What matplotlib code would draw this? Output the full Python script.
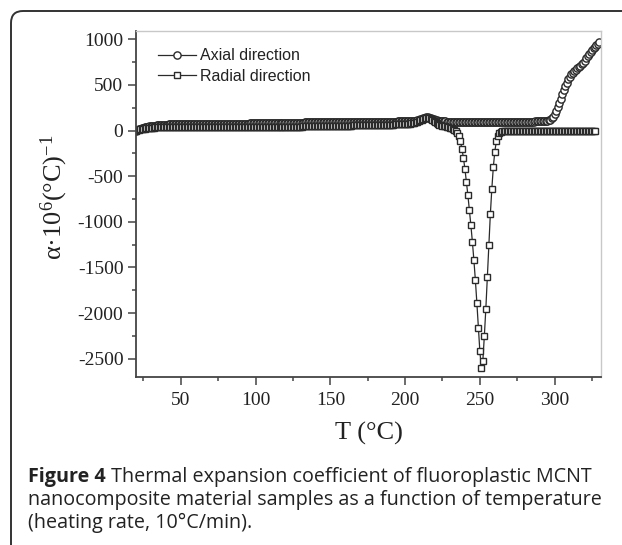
import numpy as np
import matplotlib
matplotlib.use('Agg')
import matplotlib.pyplot as plt
from matplotlib.patches import FancyBboxPatch
from matplotlib.ticker import MultipleLocator

plt.rcParams['axes.unicode_minus'] = False
plt.rcParams['mathtext.fontset'] = 'custom'
plt.rcParams['mathtext.rm'] = 'Liberation Serif'
plt.rcParams['mathtext.it'] = 'Liberation Serif:italic'

# temperature grid (deg C), one reading per degree
temp_axial = np.arange(20, 331)
temp_radial = np.arange(20, 328)

axial = [
    0, 7, 13, 19, 24, 29, 33, 37, 41, 44,
    47, 50, 52, 54, 56, 58, 60, 61, 62, 63,
    64, 65, 66, 67, 68, 68, 69, 69, 70, 70,
    71, 71, 71, 72, 72, 72, 72, 73, 73, 73,
    73, 73, 73, 73, 73, 73, 73, 73, 73, 73,
    73, 73, 73, 73, 73, 73, 73, 73, 73, 73,
    73, 73, 73, 73, 74, 74, 74, 74, 74, 75,
    75, 75, 75, 76, 76, 76, 77, 77, 77, 78,
    78, 78, 79, 79, 79, 80, 80, 80, 81, 81,
    81, 82, 82, 82, 83, 83, 83, 84, 84, 84,
    85, 85, 85, 85, 86, 86, 86, 86, 87, 87,
    87, 87, 87, 88, 88, 88, 88, 88, 89, 89,
    89, 89, 89, 89, 90, 90, 90, 90, 90, 90,
    91, 91, 91, 91, 91, 91, 92, 92, 92, 92,
    92, 92, 92, 93, 93, 93, 93, 93, 93, 94,
    94, 94, 94, 94, 94, 95, 95, 95, 95, 95,
    95, 96, 96, 96, 96, 96, 97, 97, 97, 97,
    97, 98, 98, 98, 98, 99, 99, 99, 100, 100,
    100, 101, 101, 102, 102, 103, 105, 108, 112, 117,
    122, 128, 134, 139, 143, 144, 142, 137, 130, 122,
    115, 110, 106, 103, 101, 100, 99, 99, 98, 98,
    98, 98, 98, 98, 98, 98, 98, 98, 98, 98,
    98, 98, 98, 98, 98, 98, 98, 98, 98, 98,
    98, 98, 98, 98, 98, 98, 98, 98, 98, 98,
    98, 98, 98, 98, 98, 98, 98, 98, 98, 98,
    98, 98, 98, 98, 98, 98, 98, 98, 98, 98,
    98, 98, 98, 98, 98, 98, 98, 99, 99, 99,
    100, 100, 101, 102, 104, 107, 112, 120, 132, 150,
    180, 215, 255, 300, 345, 395, 440, 485, 525, 560,
    590, 615, 635, 650, 665, 680, 695, 710, 725, 745,
    765, 790, 815, 840, 862, 882, 900, 918, 935, 950,
    965,
]

radial = [
    0, 4, 8, 12, 15, 18, 21, 24, 26, 28,
    30, 31, 32, 33, 34, 35, 36, 36, 37, 37,
    38, 38, 38, 39, 39, 39, 39, 40, 40, 40,
    40, 40, 40, 40, 40, 40, 40, 40, 40, 40,
    40, 40, 40, 40, 39, 39, 39, 39, 39, 38,
    38, 38, 38, 38, 37, 37, 37, 37, 37, 36,
    36, 36, 36, 36, 36, 36, 35, 35, 35, 35,
    35, 35, 35, 35, 35, 35, 35, 35, 35, 35,
    35, 35, 35, 36, 36, 36, 36, 36, 37, 37,
    37, 37, 38, 38, 38, 38, 39, 39, 39, 40,
    40, 40, 40, 41, 41, 41, 42, 42, 42, 43,
    43, 43, 44, 44, 44, 45, 45, 45, 46, 46,
    46, 47, 47, 47, 48, 48, 48, 49, 49, 49,
    50, 50, 50, 51, 51, 51, 52, 52, 52, 53,
    53, 53, 54, 54, 54, 55, 55, 55, 56, 56,
    56, 57, 57, 57, 58, 58, 58, 59, 59, 59,
    60, 60, 61, 61, 61, 62, 62, 63, 63, 64,
    64, 65, 65, 66, 66, 67, 68, 68, 69, 70,
    71, 72, 73, 75, 77, 80, 84, 89, 95, 102,
    110, 118, 126, 133, 138, 140, 137, 130, 118, 104,
    92, 80, 70, 62, 56, 52, 48, 44, 40, 35,
    30, 24, 16, 6, -8, -30, -65, -120, -200, -300,
    -420, -560, -710, -870, -1040, -1220, -1420, -1640, -1890, -2160,
    -2420, -2600, -2520, -2250, -1950, -1600, -1250, -920, -640, -400,
    -230, -120, -60, -30, -15, -8, -4, -2, -1, 0,
    0, 0, 0, 0, 0, 0, 0, 0, 0, 0,
    0, 0, 0, 0, 0, 0, 0, 0, 0, 0,
    0, 0, 0, 0, 0, 0, 0, 0, 0, 0,
    0, 0, 0, 0, 0, 0, 0, 0, 0, 0,
    0, 0, 0, 0, 0, 0, 0, 0, 0, 0,
    0, 0, 0, 0, 0, 0, 0, 0,
]

fig = plt.figure(figsize=(6.22, 5.45), dpi=100)
ax = fig.add_axes([0.2186, 0.3083, 0.7476, 0.6348])

edge = '#2a2a2a'
ax.plot(temp_axial, axial, color=edge, lw=0.9, marker='o', ms=5.2,
        mfc='white', mec=edge, mew=1.0, label='Axial direction')
ax.plot(temp_radial, radial, color=edge, lw=0.9, marker='s', ms=4.6,
        mfc='white', mec=edge, mew=1.0, label='Radial direction')

ax.set_xlim(20, 331)
ax.set_ylim(-2700, 1090)
ax.xaxis.set_major_locator(MultipleLocator(50))
ax.xaxis.set_minor_locator(MultipleLocator(25))
ax.yaxis.set_major_locator(MultipleLocator(500))
ax.yaxis.set_minor_locator(MultipleLocator(250))

for side in ['top', 'right']:
    ax.spines[side].set_color('#c8c8c8')
    ax.spines[side].set_linewidth(1.0)
for side in ['left', 'bottom']:
    ax.spines[side].set_color('#444444')
    ax.spines[side].set_linewidth(1.3)

ax.tick_params(which='both', direction='out', color='#444444', width=1.1,
               top=False, right=False)
ax.tick_params(which='major', length=6)
ax.tick_params(which='minor', length=3)
ax.tick_params(axis='x', pad=5)
ax.tick_params(axis='y', pad=3)
for lab in ax.get_xticklabels() + ax.get_yticklabels():
    lab.set_fontfamily('Liberation Serif')
    lab.set_fontsize(14)
    lab.set_color('#222222')

ax.set_xlabel('T (°C)', fontfamily='Liberation Serif', fontsize=19, color='#222222')
ax.xaxis.set_label_coords(0.5, -0.13)
ax.xaxis.label.set_va('top')
ax.set_ylabel(r'$\mathrm{α·10^{6}(°C)^{-1}}$', fontsize=19, color='#222222')
ax.yaxis.set_label_coords(-0.142, 0.52)

leg = ax.legend(loc='upper left', bbox_to_anchor=(0.047, 0.95), frameon=False,
                prop={'family': 'Liberation Sans', 'size': 11.5},
                handlelength=2.4, handletextpad=0.25, numpoints=1,
                borderpad=0, borderaxespad=0, labelspacing=0.36)
for t in leg.get_texts():
    t.set_color('#222222')

# rounded panel border (only top-left corner is inside the image)
frame = FancyBboxPatch((0.11, -1.0), 7.0, 6.34,
                       boxstyle='round,pad=0,rounding_size=0.12',
                       transform=fig.dpi_scale_trans, fill=False,
                       ec='#333333', lw=1.4)
fig.add_artist(frame)

# caption
cap_font = {'family': 'Open Sans', 'size': 14.2, 'color': '#222222'}
x0 = 28 / 622
bold = fig.text(x0, 1 - 482 / 545, 'Figure 4', fontweight='bold', **cap_font)
fig.canvas.draw()
bb = bold.get_window_extent(fig.canvas.get_renderer())
fig.text(bb.x1 / fig.bbox.width, 1 - 482 / 545,
         ' Thermal expansion coefficient of fluoroplastic MCNT', **cap_font)
fig.text(x0, 1 - 505 / 545,
         'nanocomposite material samples as a function of temperature', **cap_font)
fig.text(x0, 1 - 528 / 545, '(heating rate, 10°C/min).', **cap_font)

fig.savefig('out.png', dpi=100)
